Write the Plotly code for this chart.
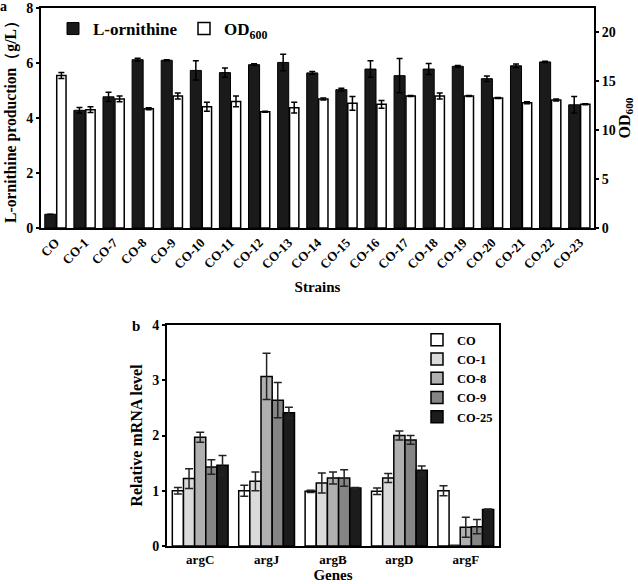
import plotly.graph_objects as go

# ---------------- Panel a data ----------------
strains = ["CO", "CO-1", "CO-7", "CO-8", "CO-9", "CO-10", "CO-11", "CO-12", "CO-13",
           "CO-14", "CO-15", "CO-16", "CO-17", "CO-18", "CO-19", "CO-20", "CO-21",
           "CO-22", "CO-23"]
ornithine = [0.5, 4.28, 4.77, 6.12, 6.1, 5.73, 5.65, 5.94, 6.02, 5.64, 5.03, 5.78,
             5.54, 5.78, 5.88, 5.43, 5.9, 6.04, 4.48]
ornithine_err = [0, 0.1, 0.17, 0.05, 0.02, 0.35, 0.17, 0.03, 0.3, 0.05, 0.05, 0.3,
                 0.62, 0.2, 0.03, 0.1, 0.06, 0.02, 0.3]
od600 = [15.6, 12.1, 13.2, 12.2, 13.5, 12.4, 12.95, 11.9, 12.3, 13.2, 12.75, 12.65,
         13.5, 13.5, 13.5, 13.3, 12.8, 13.1, 12.65]
od600_err = [0.3, 0.3, 0.3, 0.1, 0.3, 0.45, 0.55, 0.05, 0.55, 0.1, 0.7, 0.4, 0.05,
             0.3, 0.05, 0.05, 0.1, 0.1, 0.05]

# ---------------- Panel b data ----------------
genes = ["argC", "argJ", "argB", "argD", "argF"]
strains_b = ["CO", "CO-1", "CO-8", "CO-9", "CO-25"]
mrna = {
    "CO":    [1.0, 1.0, 0.99, 0.99, 1.0],
    "CO-1":  [1.22, 1.17, 1.14, 1.23, 0.01],
    "CO-8":  [1.97, 3.07, 1.23, 2.0, 0.34],
    "CO-9":  [1.43, 2.64, 1.23, 1.92, 0.35],
    "CO-25": [1.46, 2.41, 1.05, 1.37, 0.66],
}
mrna_err = {
    "CO":    [0.06, 0.1, 0.02, 0.06, 0.09],
    "CO-1":  [0.18, 0.17, 0.18, 0.08, 0.0],
    "CO-8":  [0.09, 0.42, 0.11, 0.08, 0.18],
    "CO-9":  [0.13, 0.32, 0.15, 0.08, 0.13],
    "CO-25": [0.18, 0.1, 0.01, 0.08, 0.01],
}
colors_b = ["#ffffff", "#dadada", "#b0b0b0", "#858585", "#1c1c1c"]

FONT = "Liberation Serif, Times New Roman, serif"
W, H = 638, 584


def px(x):
    return x / W


def py(y):
    return 1 - y / H


fig = go.Figure()

fig.add_trace(go.Bar(
    x=strains, y=ornithine, name="L-ornithine",
    marker=dict(color="#1a1a1a", line=dict(color="#000", width=1)),
    width=0.38, offset=-0.37,
    error_y=dict(type="data", array=ornithine_err, color="#000", thickness=1.5, width=3),
    xaxis="x", yaxis="y", legend="legend",
))
fig.add_trace(go.Bar(
    x=strains, y=od600, name="OD<sub>600</sub>",
    marker=dict(color="#ffffff", line=dict(color="#000", width=1.5)),
    width=0.32, offset=0.04,
    error_y=dict(type="data", array=od600_err, color="#000", thickness=1.5, width=3),
    xaxis="x", yaxis="y2", legend="legend",
))

for name, col in zip(strains_b, colors_b):
    fig.add_trace(go.Bar(
        x=genes, y=mrna[name], name=name,
        marker=dict(color=col, line=dict(color="#000", width=1.5)),
        error_y=dict(type="data", array=mrna_err[name], color="#222", thickness=1.5, width=4),
        xaxis="x2", yaxis="y3", legend="legend2",
    ))

tick_font = dict(family=FONT, size=14, color="#000", weight="bold")
title_font = dict(family=FONT, size=15, color="#000", weight="bold")

fig.update_layout(
    width=W, height=H,
    margin=dict(l=0, r=0, t=0, b=0),
    paper_bgcolor="white", plot_bgcolor="white",
    barmode="group", bargap=0.16, bargroupgap=0,
    font=dict(family=FONT, color="#000"),
    xaxis=dict(domain=[px(41), px(594)], anchor="y", type="category",
               showline=True, linecolor="#000", linewidth=2, mirror=True,
               ticks="", tickangle=-45, tickfont=dict(family=FONT, size=13, color="#000", weight="bold"),
               title=dict(text="Strains", font=title_font, standoff=11),
               automargin=False, showgrid=False),
    yaxis=dict(domain=[py(228), py(8)], anchor="x", range=[0, 8], dtick=2,
               showline=True, linecolor="#000", linewidth=2,
               ticks="outside", ticklen=3, tickwidth=1.5, tickcolor="#000",
               tickfont=tick_font, showgrid=False, zeroline=False,
               title=dict(text="L-ornithine production（g/L）",
                          font=dict(family=FONT, size=15.7, color="#000", weight="bold"), standoff=6),
               automargin=False),
    yaxis2=dict(domain=[py(228), py(8)], anchor="x", overlaying="y", side="right",
                range=[0, 22.5], dtick=5,
                showline=True, linecolor="#000", linewidth=2,
                ticks="outside", ticklen=3, tickwidth=1.5, tickcolor="#000",
                tickfont=tick_font, showgrid=False, zeroline=False,
                title=dict(text="OD<sub>600</sub>", font=dict(family=FONT, size=16, color="#000", weight="bold"),
                           standoff=4),
                automargin=False),
    xaxis2=dict(domain=[px(167), px(499)], anchor="y3", type="category",
                showline=True, linecolor="#000", linewidth=2, mirror=True,
                ticks="", tickfont=dict(family=FONT, size=13, color="#000", weight="bold"),
                title=dict(text="Genes", font=title_font, standoff=2),
                automargin=False, showgrid=False),
    yaxis3=dict(domain=[py(546), py(325)], anchor="x2", range=[0, 4], dtick=1,
                showline=True, linecolor="#000", linewidth=2, mirror=True,
                ticks="outside", ticklen=3, tickwidth=1.5, tickcolor="#000",
                tickfont=tick_font, showgrid=False, zeroline=False,
                title=dict(text="Relative mRNA level",
                           font=dict(family=FONT, size=16, color="#000", weight="bold"), standoff=6),
                automargin=False),
    legend=dict(orientation="h", x=px(53), y=py(11), xanchor="left", yanchor="top",
                bgcolor="rgba(0,0,0,0)", font=dict(family=FONT, size=17, color="#000", weight="bold"),
                entrywidth=86, itemclick=False),
    legend2=dict(orientation="v", x=px(417), y=py(325), xanchor="left", yanchor="top",
                 bgcolor="rgba(0,0,0,0)", font=dict(family=FONT, size=12.5, color="#000", weight="bold"),
                 tracegroupgap=0, itemclick=False),
    showlegend=True,
)

fig.add_annotation(text="a", x=px(-2), y=py(-3), xref="paper", yref="paper", xanchor="left", yanchor="top",
                   showarrow=False, font=dict(family=FONT, size=14, color="#000", weight="bold"))
fig.add_annotation(text="b", x=px(130), y=py(316), xref="paper", yref="paper", xanchor="left", yanchor="top",
                   showarrow=False, font=dict(family=FONT, size=15, color="#000", weight="bold"))

# remove the default 8px page margin so the figure fills the window exactly
fig.write_html("out.html", config={"displayModeBar": False},
               post_script="document.body.style.margin='0';document.body.style.overflow='hidden';")
